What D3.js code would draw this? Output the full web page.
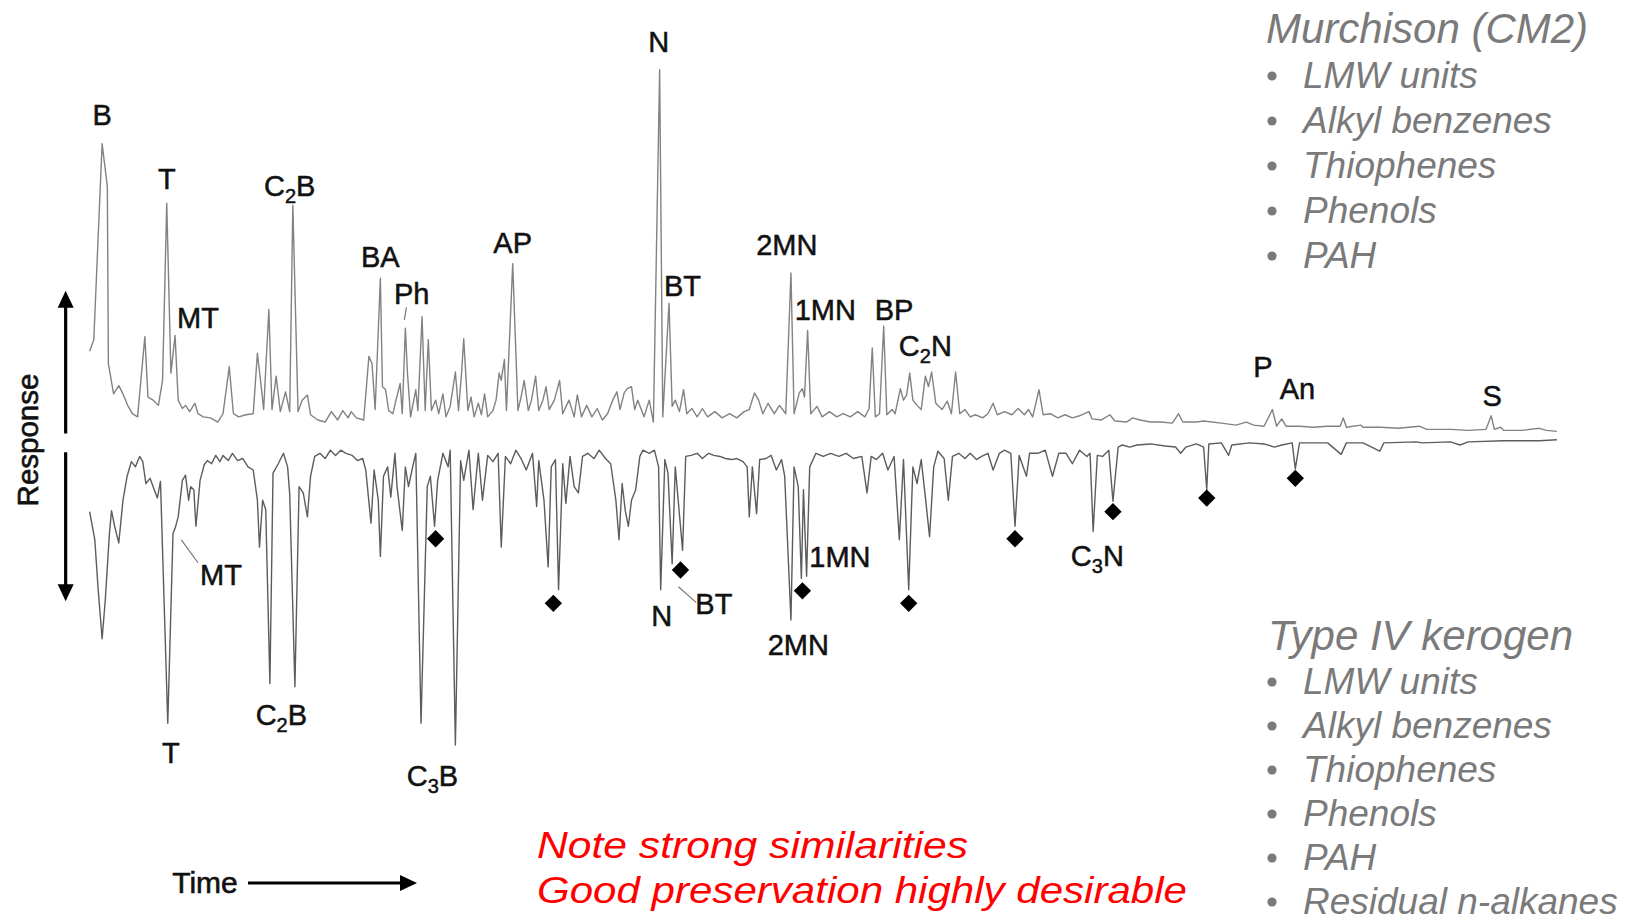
<!DOCTYPE html>
<html>
<head>
<meta charset="utf-8">
<script src="https://cdn.jsdelivr.net/npm/d3@7"></script>
<style>
  body { margin: 0; background: #fff; }
  svg { display: block; }
  text { font-family: "Liberation Sans", Arial, Helvetica, sans-serif; }
</style>
</head>
<body>
<div id="chart"></div>
<script>
// py-GC traces: [scan, response]. Murchison drawn upward, kerogen drawn downward
const murchisonTrace = [
  [6,83],[10,94],[18,282],[23,241],[24,71],[29,42],[34,50],[38,42],[43,30],[47,23],[52,20],
  [59,97],[62,39],[67,36],[72,31],[76,55],[80,225],[84,62],[88,98],[91,36],[95,28],[98,31],
  [102,25],[107,33],[110,23],[115,20],[122,19],[129,15],[134,23],[140,68],[144,23],[149,20],
  [156,22],[163,23],[167,81],[171,46],[173,27],[178,123],[181,27],[185,59],[189,25],[194,44],
  [198,25],[201,223],[206,25],[210,36],[215,41],[218,22],[225,17],[232,15],[238,25],[244,17],
  [249,26],[254,19],[257,25],[262,19],[269,17],[274,78],[277,71],[280,27],[285,153],[287,49],
  [290,46],[293,26],[297,23],[300,36],[304,52],[306,23],[309,105],[311,62],[314,20],[319,46],
  [321,26],[325,116],[328,26],[331,94],[334,26],[338,36],[341,23],[345,42],[348,20],[352,30],
  [357,63],[360,26],[363,63],[365,95],[369,26],[372,39],[375,20],[379,33],[382,22],[385,42],
  [388,20],[393,26],[396,36],[399,62],[401,55],[404,75],[406,26],[412,167],[417,26],[420,39],
  [423,55],[427,26],[430,36],[434,59],[437,26],[441,36],[444,49],[447,27],[452,36],[457,55],
  [460,23],[466,36],[471,20],[474,41],[478,20],[483,31],[488,20],[493,28],[498,17],[503,23],
  [508,36],[512,44],[515,27],[519,43],[522,47],[526,49],[529,27],[532,36],[538,20],[543,36],
  [547,15],[553,353],[556,20],[562,129],[565,30],[568,36],[572,25],[576,46],[579,23],[584,28],
  [589,20],[594,28],[599,20],[606,25],[613,19],[620,23],[627,19],[634,25],[639,27],[644,43],
  [648,36],[652,23],[657,33],[663,23],[668,31],[674,23],[679,158],[682,23],[687,43],[690,47],
  [692,39],[695,103],[698,23],[704,30],[709,20],[716,25],[723,20],[729,23],[736,20],[743,25],
  [750,20],[754,28],[757,86],[760,20],[764,23],[768,107],[771,22],[776,27],[779,23],[784,47],
  [787,36],[790,41],[793,62],[796,36],[800,31],[804,27],[808,59],[811,49],[814,63],[818,33],
  [824,27],[829,35],[833,23],[837,63],[841,23],[846,27],[851,20],[856,22],[863,19],[868,23],
  [873,33],[877,22],[884,25],[891,22],[897,28],[903,22],[907,27],[911,20],[917,46],[921,22],
  [928,23],[935,19],[942,22],[949,19],[956,21],[965,25],[968,18],[977,17],[985,22],[990,16],
  [1001,15],[1007,19],[1014,17],[1024,15],[1034,15],[1045,14],[1051,23],[1055,15],[1068,15],
  [1075,16],[1092,14],[1106,12],[1116,15],[1123,12],[1133,11],[1141,27],[1145,11],[1150,18],
  [1154,11],[1167,11],[1180,10],[1194,11],[1206,11],[1209,19],[1212,10],[1226,12],[1228,10],
  [1245,10],[1262,9],[1282,11],[1289,8],[1312,8],[1329,7],[1346,8],[1351,21],[1354,8],
  [1360,10],[1363,7],[1380,7],[1397,9],[1404,7],[1414,6]
];

const kerogenTrace = [
  [6,76],[11,103],[14,148],[18,198],[21,161],[25,97],[27,75],[30,90],[34,106],[38,65],[42,42],
  [46,28],[50,33],[54,23],[57,28],[60,49],[64,44],[68,55],[71,63],[74,47],[81,279],[86,97],
  [88,92],[91,81],[95,46],[98,41],[101,65],[103,52],[106,55],[108,90],[112,46],[116,31],
  [119,27],[123,30],[127,22],[131,28],[134,22],[139,27],[143,20],[148,27],[153,25],[158,33],
  [163,36],[167,65],[169,110],[172,65],[175,74],[179,241],[182,39],[187,30],[192,20],[196,33],
  [198,59],[203,244],[207,52],[211,58],[215,81],[218,42],[222,23],[227,20],[232,25],[237,17],
  [242,22],[247,17],[252,20],[258,22],[263,27],[268,25],[271,36],[276,87],[279,36],[283,65],
  [285,119],[288,42],[292,33],[295,62],[299,20],[301,52],[306,94],[309,33],[312,52],[316,33],
  [319,20],[324,279],[330,52],[333,42],[337,90],[340,46],[345,20],[350,33],[352,17],[357,300],
  [362,27],[365,46],[370,17],[374,74],[379,20],[383,65],[388,22],[393,28],[398,20],[401,110],
  [405,23],[410,30],[415,17],[420,25],[425,36],[431,20],[435,71],[437,27],[442,65],[446,129],
  [449,33],[453,26],[456,151],[460,30],[463,68],[467,23],[471,52],[475,58],[479,23],[484,20],
  [490,25],[495,17],[501,25],[506,30],[511,65],[514,103],[517,49],[520,75],[523,90],[526,65],
  [530,55],[534,23],[537,17],[543,20],[548,17],[552,33],[554,151],[558,26],[561,39],[565,126],
  [568,33],[575,113],[578,23],[583,22],[589,20],[594,25],[600,20],[605,22],[611,23],[616,25],
  [622,26],[627,25],[633,28],[637,33],[639,81],[642,33],[646,78],[649,26],[655,25],[660,22],
  [665,36],[670,26],[673,42],[679,180],[682,33],[686,52],[689,140],[691,55],[694,138],[697,33],
  [703,20],[710,23],[717,20],[725,23],[732,20],[739,25],[747,23],[752,58],[756,23],[761,26],
  [767,20],[772,36],[778,23],[783,103],[787,26],[792,151],[796,33],[800,49],[804,26],[808,62],
  [812,100],[816,33],[820,18],[826,25],[830,65],[834,23],[840,20],[846,25],[851,20],[857,26],
  [862,23],[868,20],[873,36],[879,20],[884,17],[890,20],[894,90],[898,22],[905,42],[908,20],
  [916,20],[923,17],[930,42],[936,20],[943,20],[949,30],[956,17],[963,23],[966,20],[969,95],
  [973,22],[978,23],[984,17],[988,66],[993,14],[997,12],[1004,14],[1011,12],[1024,11],
  [1038,13],[1048,14],[1053,20],[1058,14],[1068,11],[1075,14],[1078,55],[1080,11],[1092,10],
  [1099,22],[1102,12],[1119,10],[1133,11],[1143,14],[1150,12],[1160,10],[1163,35],[1167,10],
  [1194,10],[1207,21],[1212,10],[1228,10],[1244,18],[1248,10],[1279,9],[1285,10],[1312,9],
  [1321,12],[1329,9],[1363,8],[1397,8],[1414,7]
];

// peak labels: name ("_n" = subscript), scan, response at label centre
const murchisonPeaks = [
  {name: "B", scan: 18, resp: 310}, {name: "T", scan: 80, resp: 249},
  {name: "MT", scan: 110, resp: 115}, {name: "C_2B", scan: 198, resp: 242},
  {name: "BA", scan: 285, resp: 174}, {name: "Ph", scan: 315, resp: 138},
  {name: "AP", scan: 412, resp: 187}, {name: "N", scan: 552, resp: 380},
  {name: "BT", scan: 575, resp: 146}, {name: "2MN", scan: 675, resp: 185},
  {name: "1MN", scan: 712, resp: 123}, {name: "BP", scan: 778, resp: 123},
  {name: "C_2N", scan: 808, resp: 88}, {name: "P", scan: 1132, resp: 68},
  {name: "An", scan: 1165, resp: 47}, {name: "S", scan: 1352, resp: 40}
];
const kerogenPeaks = [
  {name: "MT", scan: 132, resp: 136}, {name: "T", scan: 84, resp: 307},
  {name: "C_2B", scan: 190, resp: 271}, {name: "C_3B", scan: 335, resp: 329},
  {name: "N", scan: 555, resp: 176}, {name: "BT", scan: 605, resp: 164},
  {name: "1MN", scan: 726, resp: 119}, {name: "2MN", scan: 686, resp: 204},
  {name: "C_3N", scan: 973, resp: 118}
];
// leader lines [scan1, resp1, scan2, resp2]
const murchisonLeaders = [[310, 125, 308, 113]];
const kerogenLeaders = [[94, 103, 110, 125], [571, 148, 588, 163]];

// n-alkane markers in the kerogen trace
const alkaneMarks = [[338,102],[451,164],[573,132],[690,152],[792,164],[894,102],[988,76],[1078,63],[1163,44]];

const murchisonClasses = ["LMW units", "Alkyl benzenes", "Thiophenes", "Phenols", "PAH"];
const kerogenClasses = ["LMW units", "Alkyl benzenes", "Thiophenes", "Phenols", "PAH", "Residual n-alkanes"];
const notes = ["Note strong similarities", "Good preservation highly desirable"];

const svgWidth = 1634, svgHeight = 924;
const K = svgWidth / 1568;
const svg = d3.select("#chart").append("svg")
    .attr("width", svgWidth)
    .attr("height", svgHeight);

const x = d3.scaleLinear().domain([0, 1500]).range([80 * K, 1580 * K]);
const yTop = d3.scaleLinear().domain([0, 400]).range([420 * K, 20 * K]);
const yBot = d3.scaleLinear().domain([0, 400]).range([415 * K, 815 * K]);

const lineTop = d3.line().x(d => x(d[0])).y(d => yTop(d[1]));
const lineBot = d3.line().x(d => x(d[0])).y(d => yBot(d[1]));

svg.append("path").datum(murchisonTrace)
    .attr("d", lineTop)
    .attr("fill", "none").attr("stroke", "#828282")
    .attr("stroke-width", 1.4).attr("stroke-linejoin", "round");
svg.append("path").datum(kerogenTrace)
    .attr("d", lineBot)
    .attr("fill", "none").attr("stroke", "#5c5c5c")
    .attr("stroke-width", 1.4).attr("stroke-linejoin", "round");

function drawLabels(peaks, y) {
    peaks.forEach(d => {
        const t = svg.append("text")
            .attr("x", x(d.scan)).attr("y", y(d.resp))
            .attr("dy", "0.36em")
            .attr("text-anchor", "middle")
            .attr("font-size", 29).attr("fill", "#111")
            .attr("stroke", "#111").attr("stroke-width", 0.5);
        const parts = d.name.split(/_(\d)/);
        parts.forEach((p, i) => {
            if (!p) return;
            if (i % 2 === 1) {
                t.append("tspan").attr("font-size", 20).attr("dy", 7).text(p);
            } else {
                const s = t.append("tspan").text(p);
                if (i > 0) s.attr("dy", -7);
            }
        });
    });
}
drawLabels(murchisonPeaks, yTop);
drawLabels(kerogenPeaks, yBot);

function drawLeaders(list, y) {
    svg.selectAll(null).data(list).enter().append("line")
        .attr("x1", d => x(d[0])).attr("y1", d => y(d[1]))
        .attr("x2", d => x(d[2])).attr("y2", d => y(d[3]))
        .attr("stroke", "#777").attr("stroke-width", 1.2);
}
drawLeaders(murchisonLeaders, yTop);
drawLeaders(kerogenLeaders, yBot);

svg.selectAll(".alk").data(alkaneMarks).enter().append("path")
    .attr("class", "alk")
    .attr("d", d3.symbol().type(d3.symbolSquare).size(150))
    .attr("transform", d => "translate(" + x(d[0]) + "," + yBot(d[1]) + ") rotate(45)")
    .attr("fill", "#000");

// response / time arrows
const ax = 63 * K;
function arrow(x1, y1, x2, y2) {
    const a = Math.atan2(y2 - y1, x2 - x1), L = 17, W = 8;
    svg.append("line")
        .attr("x1", x1).attr("y1", y1)
        .attr("x2", x2 - Math.cos(a) * (L - 2)).attr("y2", y2 - Math.sin(a) * (L - 2))
        .attr("stroke", "#000").attr("stroke-width", 3.2);
    const bx = x2 - Math.cos(a) * L, by = y2 - Math.sin(a) * L;
    svg.append("path")
        .attr("d", "M" + x2 + "," + y2 +
            "L" + (bx - Math.sin(a) * W) + "," + (by + Math.cos(a) * W) +
            "L" + (bx + Math.sin(a) * W) + "," + (by - Math.cos(a) * W) + "Z")
        .attr("fill", "#000");
}
arrow(ax, 416 * K, ax, 279 * K);
arrow(ax, 434 * K, ax, 577 * K);
arrow(248, 883, 417, 883);

svg.append("text")
    .attr("transform", "translate(27,440) rotate(-90)")
    .attr("dy", "0.36em").attr("text-anchor", "middle")
    .attr("font-size", 29.5).attr("fill", "#111")
    .attr("stroke", "#111").attr("stroke-width", 0.6)
    .text("Response");
svg.append("text")
    .attr("x", 205).attr("y", 882)
    .attr("dy", "0.36em").attr("text-anchor", "middle")
    .attr("font-size", 30).attr("fill", "#111")
    .attr("stroke", "#111").attr("stroke-width", 0.6)
    .text("Time");

// class lists on the right
function classList(title, items, left, base, step) {
    svg.append("text")
        .attr("x", left).attr("y", base)
        .attr("font-size", 42).attr("font-style", "italic").attr("fill", "#7a7a7a")
        .text(title);
    items.forEach((s, i) => {
        const b = base + step * (i + 1);
        svg.append("circle").attr("cx", 1272).attr("cy", b - 12).attr("r", 4.6).attr("fill", "#7a7a7a");
        svg.append("text")
            .attr("x", 1303).attr("y", b)
            .attr("font-size", 37).attr("font-style", "italic").attr("fill", "#7a7a7a")
            .text(s);
    });
}
classList("Murchison (CM2)", murchisonClasses, 1266, 43, 45);
classList("Type IV kerogen", kerogenClasses, 1268, 650, 44);

const noteWidths = [431, 650];
notes.forEach((s, i) => {
    svg.append("text")
        .attr("x", 537).attr("y", 858 + 45 * i)
        .attr("font-size", 36).attr("font-style", "italic").attr("fill", "#ff0000")
        .attr("textLength", noteWidths[i]).attr("lengthAdjust", "spacingAndGlyphs")
        .text(s);
});
</script>
</body>
</html>
